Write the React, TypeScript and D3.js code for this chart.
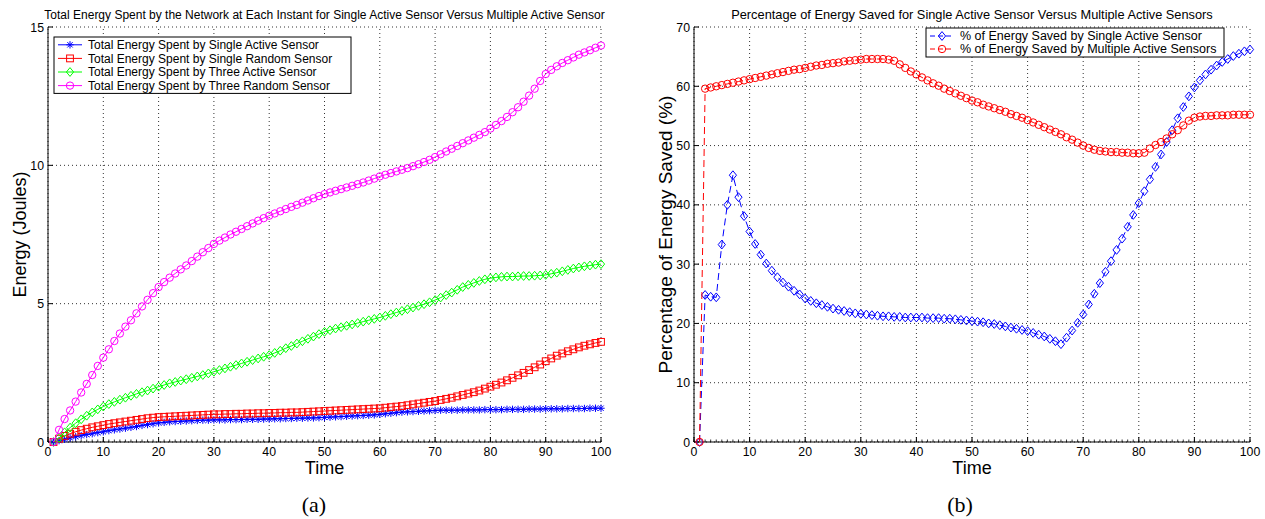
import React from "react";
import * as d3 from "d3";

// ---------- data ----------
const time = d3.range(1, 101);

const energySingleActive = [
  0, 0.05, 0.1, 0.15, 0.19, 0.23, 0.27, 0.3, 0.34, 0.37,
  0.41, 0.44, 0.47, 0.5, 0.53, 0.56, 0.6, 0.63, 0.66, 0.69,
  0.71, 0.73, 0.74, 0.75, 0.76, 0.77, 0.78, 0.79, 0.79, 0.8,
  0.8, 0.8, 0.81, 0.81, 0.81, 0.82, 0.82, 0.82, 0.83, 0.83,
  0.84, 0.84, 0.85, 0.85, 0.86, 0.86, 0.87, 0.87, 0.88, 0.89,
  0.9, 0.91, 0.92, 0.93, 0.94, 0.95, 0.96, 0.97, 0.98, 1.0,
  1.02, 1.04, 1.06, 1.08, 1.09, 1.1, 1.11, 1.12, 1.13, 1.14,
  1.15, 1.15, 1.15, 1.15, 1.16, 1.16, 1.16, 1.16, 1.17, 1.17,
  1.17, 1.17, 1.18, 1.18, 1.18, 1.18, 1.19, 1.19, 1.19, 1.2,
  1.2, 1.2, 1.2, 1.21, 1.21, 1.21, 1.21, 1.22, 1.22, 1.22,
];

const energySingleRandom = [
  0, 0.12, 0.22, 0.3, 0.37, 0.43, 0.48, 0.53, 0.57, 0.61,
  0.65, 0.68, 0.71, 0.74, 0.77, 0.8, 0.83, 0.86, 0.88, 0.9,
  0.91, 0.92, 0.93, 0.94, 0.95, 0.96, 0.97, 0.98, 0.99, 1.0,
  1.0, 1.01, 1.01, 1.02, 1.02, 1.03, 1.03, 1.04, 1.04, 1.05,
  1.05, 1.06, 1.06, 1.07, 1.07, 1.08, 1.09, 1.1, 1.11, 1.12,
  1.13, 1.14, 1.15, 1.16, 1.17, 1.18, 1.19, 1.2, 1.21, 1.22,
  1.24, 1.26, 1.28, 1.3, 1.33, 1.36, 1.39, 1.42, 1.45, 1.48,
  1.52, 1.56, 1.6, 1.65, 1.7, 1.75, 1.8, 1.86, 1.93, 2.0,
  2.07, 2.15, 2.23, 2.32, 2.41, 2.5, 2.6, 2.7, 2.8, 2.92,
  3.02, 3.12, 3.2, 3.28, 3.35, 3.42, 3.48, 3.53, 3.58, 3.62,
];

const energyThreeActive = [
  0, 0.15, 0.35, 0.52, 0.68, 0.82, 0.95, 1.07, 1.18, 1.28,
  1.37, 1.45, 1.53, 1.6, 1.67, 1.74, 1.8, 1.86, 1.93, 2.0,
  2.06, 2.12, 2.17, 2.22, 2.27, 2.32, 2.37, 2.42, 2.48, 2.54,
  2.6, 2.66, 2.72, 2.78, 2.84, 2.9, 2.96, 3.02, 3.08, 3.14,
  3.22, 3.3, 3.39, 3.47, 3.56, 3.64, 3.73, 3.81, 3.9, 3.98,
  4.04, 4.1, 4.15, 4.2, 4.25, 4.3, 4.35, 4.4, 4.45, 4.5,
  4.56, 4.62, 4.68, 4.74, 4.8, 4.86, 4.92, 4.98, 5.05, 5.13,
  5.22, 5.31, 5.4, 5.5, 5.6, 5.68, 5.75, 5.82, 5.88, 5.92,
  5.95, 5.97, 5.98, 5.98, 5.99, 6.0, 6.0, 6.01, 6.02, 6.04,
  6.08, 6.12, 6.17, 6.22, 6.27, 6.31, 6.35, 6.38, 6.41, 6.43,
];

const energyThreeRandom = [
  0, 0.44, 0.83, 1.14, 1.46, 1.79, 2.1, 2.42, 2.75, 3.05,
  3.35, 3.65, 3.92, 4.17, 4.4, 4.65, 4.9, 5.14, 5.38, 5.6,
  5.78, 5.94, 6.09, 6.24, 6.38, 6.54, 6.7, 6.86, 7.01, 7.16,
  7.28, 7.39, 7.5, 7.6, 7.7, 7.8, 7.9, 8.0, 8.09, 8.18,
  8.26, 8.34, 8.42, 8.5, 8.57, 8.65, 8.73, 8.81, 8.89, 8.96,
  9.02, 9.08, 9.14, 9.2, 9.26, 9.32, 9.38, 9.45, 9.52, 9.6,
  9.66, 9.72, 9.78, 9.84, 9.9, 9.97, 10.04, 10.12, 10.2, 10.3,
  10.4, 10.5, 10.6, 10.7, 10.8, 10.9, 11.0, 11.1, 11.2, 11.33,
  11.46, 11.6, 11.75, 11.92, 12.1, 12.3, 12.52, 12.77, 13.05, 13.3,
  13.45, 13.58, 13.7, 13.8, 13.9, 14.0, 14.08, 14.16, 14.25, 14.33,
];

const savedSingleActive = [
  0, 24.8, 24.5, 24.4, 33.3, 40.0, 45.0, 41.3, 38.1, 35.5,
  33.4, 31.6, 30.1, 28.9, 27.8, 26.9, 26.2, 25.5, 24.9, 24.2,
  23.8, 23.4, 23.1, 22.8, 22.5, 22.3, 22.1, 21.9, 21.7, 21.6,
  21.5, 21.4, 21.3, 21.2, 21.2, 21.1, 21.1, 21.0, 21.0, 21.0,
  21.0, 20.9, 20.9, 20.9, 20.8, 20.8, 20.7, 20.6, 20.5, 20.4,
  20.3, 20.2, 20.0, 19.9, 19.7, 19.5, 19.3, 19.1, 18.9, 18.7,
  18.4, 18.1, 17.8, 17.4, 17.0, 16.5, 17.6, 18.8, 20.1, 21.5,
  23.2, 25.0, 26.8, 28.7, 30.5, 32.4, 34.3, 36.3, 38.3, 40.3,
  42.3, 44.3, 46.4, 48.5, 50.6, 52.6, 54.6, 56.5, 58.3, 59.8,
  61.0, 62.0, 62.8, 63.5, 64.1, 64.6, 65.1, 65.5, 65.9, 66.2,
];

const savedMultipleActive = [
  0, 59.6, 59.8, 60.0, 60.2, 60.4, 60.6, 60.8, 61.0, 61.2,
  61.4, 61.6, 61.8, 62.0, 62.2, 62.4, 62.6, 62.8, 62.9, 63.1,
  63.3, 63.5, 63.6, 63.8, 63.9, 64.0, 64.2, 64.3, 64.4, 64.5,
  64.6, 64.6, 64.6, 64.6, 64.5, 64.3, 63.7, 63.1, 62.5, 62.0,
  61.5, 61.0, 60.5, 60.1, 59.6, 59.2, 58.8, 58.4, 58.0, 57.6,
  57.3, 56.9, 56.6, 56.3, 56.0, 55.7, 55.3, 55.0, 54.7, 54.3,
  53.9, 53.5, 53.1, 52.7, 52.3, 51.9, 51.4, 51.0, 50.5, 50.0,
  49.6, 49.3, 49.1, 49.0, 48.9, 48.9, 48.8, 48.8, 48.7, 48.7,
  48.8, 49.5, 50.1, 50.6, 51.2, 51.9, 52.6, 53.4, 54.2, 54.7,
  54.9, 55.0, 55.0, 55.1, 55.1, 55.1, 55.2, 55.2, 55.2, 55.2,
];

const xTicks = [0, 10, 20, 30, 40, 50, 60, 70, 80, 90, 100];
const energyTicks = [0, 5, 10, 15];
const savedTicks = [0, 10, 20, 30, 40, 50, 60, 70];

const legendEnergy = [
  "Total Energy Spent by Single Active Sensor",
  "Total Energy Spent by Single Random Sensor",
  "Total Energy Spent by Three Active Sensor",
  "Total Energy Spent by Three Random Sensor",
];
const legendSaved = [
  "% of Energy Saved by Single Active Sensor",
  "% of Energy Saved by Multiple Active Sensors",
];

// ---------- drawing helpers ----------
const FONT = "'Liberation Sans', Arial, Helvetica, sans-serif";

type MarkerKind = "star" | "square" | "diamond" | "circle";

function Marker({ kind, x, y, color }: { kind: MarkerKind; x: number; y: number; color: string }) {
  const common = { fill: "none", stroke: color, strokeWidth: 1 };
  if (kind === "circle") return <circle cx={x} cy={y} r={3.7} {...common} />;
  if (kind === "square") return <rect x={x - 3.4} y={y - 3.4} width={6.8} height={6.8} {...common} />;
  if (kind === "diamond")
    return <path d={`M${x},${y - 4.4}L${x + 3.6},${y}L${x},${y + 4.4}L${x - 3.6},${y}Z`} {...common} />;
  const s = 3.7, k = 2.7;
  return (
    <path
      d={`M${x - s},${y}L${x + s},${y}M${x},${y - s}L${x},${y + s}M${x - k},${y - k}L${x + k},${y + k}M${x - k},${y + k}L${x + k},${y - k}`}
      {...common}
    />
  );
}

type Series = { values: number[]; color: string; marker: MarkerKind; dash?: string; label: string };

type PanelProps = {
  x0: number; x1: number; yTop: number; yBot: number;
  yMax: number; yTicks: number[];
  series: Series[];
  title: string; titleSize: number; ylabel: string; ylabelSize: number;
  caption: string; captionX: number;
  legend: { x: number; y: number; w: number; rowH: number; pad: number; font: number };
};

function Panel(p: PanelProps) {
  const x = d3.scaleLinear().domain([0, 100]).range([p.x0, p.x1]);
  const y = d3.scaleLinear().domain([0, p.yMax]).range([p.yBot, p.yTop]);
  const line = d3.line<number>().x((_, i) => x(time[i])).y((v) => y(v));
  const minor = d3.range(0, 101, 1);
  const cx = (p.x0 + p.x1) / 2;
  const lg = p.legend;
  const lgH = lg.rowH * p.series.length + lg.pad * 2;
  return (
    <g>
      {/* grid */}
      {xTicks.map((t) => (
        <line key={"gx" + t} x1={x(t)} x2={x(t)} y1={p.yBot} y2={p.yTop} stroke="#333" strokeWidth={1} strokeDasharray="1,3" />
      ))}
      {p.yTicks.map((t) => (
        <line key={"gy" + t} x1={p.x0} x2={p.x1} y1={y(t)} y2={y(t)} stroke="#333" strokeWidth={1} strokeDasharray="1,3" />
      ))}
      {/* axes */}
      <line x1={p.x0} x2={p.x0} y1={p.yTop} y2={p.yBot} stroke="#000" strokeWidth={1} />
      <line x1={p.x0} x2={p.x1} y1={p.yBot} y2={p.yBot} stroke="#000" strokeWidth={1} />
      {minor.map((t) => (
        <line key={"mx" + t} x1={x(t)} x2={x(t)} y1={p.yBot} y2={p.yBot - 2.5} stroke="#000" strokeWidth={0.8} />
      ))}
      {xTicks.map((t) => (
        <g key={"tx" + t}>
          <line x1={x(t)} x2={x(t)} y1={p.yBot} y2={p.yBot - 5} stroke="#000" />
          <text x={x(t)} y={p.yBot + 14} fontSize={12.3} fontFamily={FONT} textAnchor="middle">{t}</text>
        </g>
      ))}
      {p.yTicks.map((t) => (
        <g key={"ty" + t}>
          <line x1={p.x0} x2={p.x0 + 5} y1={y(t)} y2={y(t)} stroke="#000" />
          <text x={p.x0 - 4} y={y(t) + 4.5} fontSize={12.3} fontFamily={FONT} textAnchor="end">{t}</text>
        </g>
      ))}
      {/* series */}
      {p.series.map((s, si) => (
        <g key={"s" + si}>
          <path d={line(s.values) || ""} fill="none" stroke={s.color} strokeWidth={1} strokeDasharray={s.dash} />
          {s.values.map((v, i) => (
            <Marker key={i} kind={s.marker} x={x(time[i])} y={y(v)} color={s.color} />
          ))}
        </g>
      ))}
      {/* labels */}
      <text x={cx} y={19} fontSize={p.titleSize} fontFamily={FONT} textAnchor="middle">{p.title}</text>
      <text x={cx} y={474} fontSize={18} fontFamily={FONT} textAnchor="middle">Time</text>
      <text
        transform={`translate(${p.x0 - 22},${(p.yTop + p.yBot) / 2}) rotate(-90)`}
        fontSize={p.ylabelSize} fontFamily={FONT} textAnchor="middle"
      >{p.ylabel}</text>
      <text x={p.captionX} y={512} fontSize={22} fontFamily="'Liberation Serif', 'Times New Roman', serif" textAnchor="middle">{p.caption}</text>
      {/* legend */}
      <rect x={lg.x} y={lg.y} width={lg.w} height={lgH} fill="#fff" stroke="#000" strokeWidth={1} />
      {p.series.map((s, i) => {
        const ry = lg.y + lg.pad + lg.rowH * (i + 0.5);
        return (
          <g key={"lg" + i}>
            <line x1={lg.x + 4} x2={lg.x + 28} y1={ry} y2={ry} stroke={s.color} strokeDasharray={s.dash ? "5,3" : undefined} />
            <Marker kind={s.marker} x={lg.x + 16} y={ry} color={s.color} />
            <text x={lg.x + 34} y={ry + 4.2} fontSize={lg.font} fontFamily={FONT}>{s.label}</text>
          </g>
        );
      })}
    </g>
  );
}

export default function App() {
  const left: Series[] = [
    { values: energySingleActive, color: "#0000ff", marker: "star", label: legendEnergy[0] },
    { values: energySingleRandom, color: "#ff0000", marker: "square", label: legendEnergy[1] },
    { values: energyThreeActive, color: "#00ff00", marker: "diamond", label: legendEnergy[2] },
    { values: energyThreeRandom, color: "#ff00ff", marker: "circle", label: legendEnergy[3] },
  ];
  const right: Series[] = [
    { values: savedSingleActive, color: "#0000ff", marker: "diamond", dash: "7,4", label: legendSaved[0] },
    { values: savedMultipleActive, color: "#ff0000", marker: "circle", dash: "7,4", label: legendSaved[1] },
  ];
  return (
    <svg width={1265} height={519} style={{ position: "absolute", left: 0, top: 0, background: "#fff" }}>
      <rect width={1265} height={519} fill="#fff" />
      <Panel
        x0={48} x1={601} yTop={27} yBot={442} yMax={15} yTicks={energyTicks}
        series={left}
        title="Total Energy Spent by the Network at Each Instant for Single Active Sensor Versus Multiple Active Sensor"
        titleSize={12} ylabel="Energy (Joules)" ylabelSize={18} caption="(a)" captionX={314}
        legend={{ x: 54, y: 37, w: 297, rowH: 13.6, pad: 1, font: 12 }}
      />
      <Panel
        x0={694} x1={1250} yTop={27} yBot={442} yMax={70} yTicks={savedTicks}
        series={right}
        title="Percentage of Energy Saved for Single Active Sensor Versus Multiple Active Sensors"
        titleSize={12.8} ylabel="Percentage of Energy Saved (%)" ylabelSize={19} caption="(b)" captionX={960}
        legend={{ x: 926, y: 28, w: 298, rowH: 13, pad: 1.5, font: 12.5 }}
      />
    </svg>
  );
}
